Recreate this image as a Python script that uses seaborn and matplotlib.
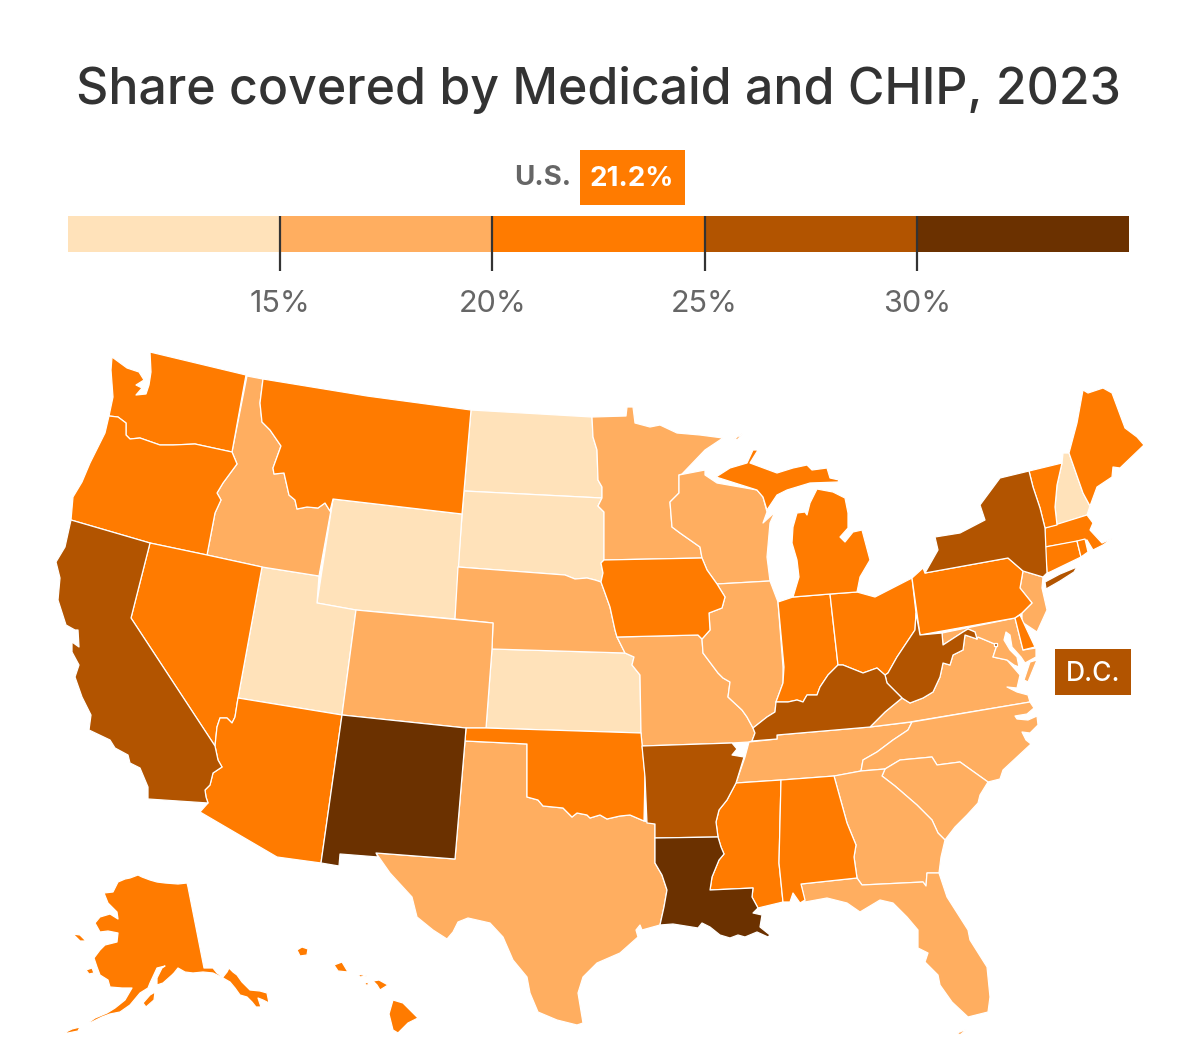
#! /usr/bin/python3
'''
Share of people covered by Medicaid and CHIP in 2023, by state.
'''

import matplotlib
matplotlib.use('Agg')
import numpy as np
import seaborn as sns
import matplotlib.pyplot as plt

# Legend Bands
BAND_EDGES = [10, 15, 20, 25, 30, 35]
BAND_COLORS = ['#FFE2BA', '#FFAE60', '#FF7B00', '#B25400', '#6B3100']
TICK_VALUES = [15, 20, 25, 30]
TICK_LABELS = ['15%', '20%', '25%', '30%']
US_VALUE = '21.2%'

# Which Band Each State Falls Into
BAND_STATES = [
    ['ND', 'SD', 'WY', 'UT', 'KS', 'NH'],
    ['ID', 'MN', 'WI', 'NE', 'CO', 'MO', 'IL', 'TX', 'TN', 'VA', 'VA2', 'NC',
     'SC', 'GA', 'FL', 'FL2', 'NJ', 'MD'],
    ['WA', 'OR', 'MT', 'NV', 'AZ', 'OK', 'IA', 'IN', 'OH', 'MI', 'MI2', 'MI3',
     'MS', 'AL', 'PA', 'MA', 'CT', 'RI', 'VT', 'ME', 'DE', 'AK', 'AK2',
     'AK3', 'AK4', 'AK5', 'HI', 'HI2', 'HI3', 'HI4', 'HI5', 'HI6'],
    ['CA', 'NY', 'NY2', 'WV', 'KY', 'AR', 'DC'],
    ['NM', 'LA'],
]

# Shared Borders in Image Pixels
WA_OR = [(232, 452), (195, 444), (173, 445), (160, 445), (140, 438), (130, 439),
         (126, 435), (126, 423), (118, 417), (109, 416)]
OR_ID = [(207, 555), (215, 513), (221, 500), (217, 493), (223, 483), (237, 464),
         (232, 452)]
ID_MT = [(263, 379), (260, 403), (262, 422), (270, 430), (281, 446), (273, 468),
         (274, 474), (284, 473), (289, 495), (295, 500), (297, 509), (307, 507),
         (318, 508), (325, 503), (330, 511)]
CA_AZ = [(215, 746), (218, 760), (222, 767), (213, 773), (210, 785), (205, 790),
         (206, 797), (208, 803)]
NV_AZ = [(238, 698), (235, 717), (232, 723), (227, 718), (220, 718), (217, 727),
         (215, 746)]
ND_MN = [(592, 417), (593, 437), (597, 450), (598, 480), (602, 487), (602, 498)]
SD_MN = [(602, 498), (598, 506), (604, 512), (604, 560)]
SD_IA = [(604, 560), (601, 563), (603, 573), (601, 582)]
SD_NE = [(601, 582), (595, 580), (587, 578), (575, 579), (565, 575), (458, 567)]
MO_RIVER = [(601, 582), (605, 593), (610, 607), (615, 630), (617, 637)]
NE_MO = [(617, 637), (622, 647), (625, 653)]
KS_MO = [(625, 653), (634, 657), (632, 665), (640, 675), (641, 733)]
RED_RIVER = [(644, 821), (630, 815), (620, 816), (607, 819), (600, 815), (590, 818),
             (587, 815), (577, 813), (572, 817), (563, 808), (543, 806), (538, 800),
             (527, 797)]
MN_WI = [(679, 475), (679, 493), (670, 502), (672, 527), (680, 533), (700, 547),
         (702, 558)]
WI_IA = [(702, 558), (707, 570), (717, 584)]
IA_IL = [(717, 584), (725, 597), (722, 608), (709, 613), (710, 630), (702, 639)]
IL_MO = [(702, 639), (703, 653), (718, 673), (723, 678), (730, 682), (728, 697),
         (742, 710), (747, 717), (753, 728)]
IL_KY = [(776, 702), (775, 712), (767, 717), (753, 728)]
IN_KY = [(776, 702), (788, 702), (797, 700), (803, 702), (807, 695), (817, 695),
         (820, 687), (828, 675), (838, 665)]
OH_KY = [(838, 665), (843, 665), (863, 673), (877, 668), (885, 675)]
OH_WV = [(885, 675), (888, 673), (897, 657), (903, 648), (915, 630), (916, 613)]
WV_VA = [(977, 639), (965, 635), (963, 650), (953, 655), (950, 665), (943, 663),
         (940, 677), (933, 692), (923, 698), (910, 703), (902, 698)]
WV_MD = [(942, 633), (943, 645), (963, 632), (968, 629), (975, 632), (977, 639)]
WV_KY = [(902, 698), (887, 683), (885, 675)]
KY_VA = [(870, 727), (885, 712), (902, 698)]
VA_MD = [(977, 639), (978, 637), (997, 645), (993, 657), (1007, 660)]
TN_NC = [(912, 722), (908, 730), (893, 740), (877, 752), (863, 760), (861, 771)]
AR_MS = [(736, 783), (727, 800), (719, 810), (716, 822), (718, 837)]
LA_MS = [(718, 837), (721, 847), (724, 854), (719, 860), (712, 877), (710, 890),
         (753, 888), (752, 897), (758, 908)]
AL_GA = [(834, 776), (847, 823), (856, 845), (854, 857), (857, 878)]
GA_SC = [(885, 769), (882, 776), (895, 786), (917, 805), (932, 820), (938, 833),
         (945, 840)]
NC_SC = [(885, 769), (900, 760), (932, 757), (937, 765), (960, 762), (988, 782)]
GA_FL = [(857, 878), (862, 885), (923, 882), (926, 886), (927, 873), (939, 873)]
MS_AL = [(781, 780), (779, 863), (783, 902)]
TX_LA = [(655, 838), (655, 863), (662, 875), (667, 890), (664, 907), (660, 925)]
NY_VT = [(1045, 528), (1040, 508), (1033, 487), (1029, 471)]
VT_NH = [(1062, 463), (1057, 485), (1055, 507), (1057, 525)]
NH_ME = [(1069, 453), (1083, 493), (1090, 506)]
PA_NY = [(925, 573), (1008, 558), (1023, 571)]
PA_NJ = [(1023, 571), (1020, 588), (1032, 603), (1022, 613), (1015, 618)]

# State Outlines in Image Pixels
STATE_OUTLINES = {
    'WA': [(112, 357), (127, 368), (139, 372), (144, 380), (136, 385), (142, 388),
           (136, 395), (146, 394), (149, 385), (151, 372), (150, 352), (246, 375)]
          + WA_OR + [(113, 397), (111, 370)],
    'OR': WA_OR + [(105, 433), (90, 463), (82, 482), (73, 497), (71, 520),
                   (150, 543)] + OR_ID[:-1],
    'ID': [(247, 376)] + ID_MT + [(333, 499), (319, 576), (262, 567)] + OR_ID,
    'MT': ID_MT + [(333, 499), (462, 514), (471, 410), (367, 396)],
    'WY': [(333, 499), (462, 514), (455, 619), (356, 610), (317, 603)],
    'ND': [(471, 410)] + ND_MN + [(464, 491)],
    'SD': [(464, 491)] + SD_MN + SD_IA[1:] + SD_NE[1:],
    'NE': [(458, 567)] + SD_NE[::-1][1:] + MO_RIVER[1:] + NE_MO[1:]
          + [(492, 649), (493, 623), (455, 619)],
    'KS': [(492, 649)] + KS_MO + [(486, 728)],
    'CO': [(356, 610), (493, 623), (492, 649), (486, 728), (466, 728), (342, 715)],
    'UT': [(262, 567), (319, 576), (317, 603), (356, 610), (342, 715), (238, 698)],
    'NV': [(150, 543), (207, 555), (262, 567), (238, 698)] + NV_AZ[1:] + [(131, 618)],
    'CA': [(71, 520), (150, 543), (131, 618)] + CA_AZ
          + [(148, 799), (148, 787), (140, 768), (130, 763), (128, 755), (115, 748),
             (110, 740), (89, 730), (91, 715), (82, 697), (75, 677), (79, 665),
             (72, 652), (72, 642), (79, 647), (78, 630), (75, 630), (66, 625),
             (58, 600), (60, 578), (56, 562), (65, 547)],
    'AZ': NV_AZ + CA_AZ[1:] + [(200, 812), (277, 857), (321, 863), (342, 715)],
    'NM': [(342, 715), (466, 728), (465, 741), (455, 859), (376, 853), (378, 857),
           (340, 854), (339, 866), (321, 863)],
    'OK': [(466, 728), (486, 728), (641, 733), (645, 775)] + RED_RIVER
          + [(527, 744), (465, 741)],
    'TX': [(465, 741), (527, 744)] + RED_RIVER[::-1] + [(655, 824)] + TX_LA
          + [(642, 930), (640, 925), (636, 930), (638, 937), (620, 953), (597, 963),
             (583, 977), (578, 993), (583, 1023), (577, 1025), (557, 1020), (538, 1012),
             (530, 993), (527, 977), (513, 960), (503, 937), (490, 923), (468, 918),
             (458, 922), (453, 932), (447, 939), (433, 930), (417, 917), (412, 897),
             (390, 873), (376, 853), (455, 859)],
    'MN': ND_MN + SD_MN[1:] + [(702, 558)] + MN_WI[::-1][1:]
          + [(682, 474), (705, 450), (723, 438), (700, 435), (677, 433), (660, 425),
             (650, 427), (635, 423), (633, 407), (627, 407), (626, 416)],
    'WI': MN_WI + WI_IA[1:]
          + [(770, 581), (767, 557), (770, 523), (775, 512), (763, 523), (767, 512),
             (763, 497), (757, 490), (717, 483), (705, 475), (705, 470)],
    'MI': [(716, 477), (730, 468), (747, 463), (753, 450), (758, 450), (750, 463),
           (777, 473), (793, 468), (807, 465), (812, 470), (827, 468), (830, 478),
           (839, 480), (838, 482), (810, 483), (787, 490), (777, 495), (767, 510),
           (763, 497), (757, 490)],
    'MI2': [(817, 489), (833, 492), (845, 498), (848, 513), (848, 528), (840, 537),
            (845, 542), (853, 532), (862, 530), (870, 560), (860, 577), (857, 592),
            (830, 594), (793, 597), (799, 577), (797, 560), (792, 543), (793, 527),
            (797, 513), (805, 512), (807, 515), (810, 503)],
    'MI3': [(733, 440), (743, 433), (738, 439)],
    'IA': [(604, 560), (702, 558)] + WI_IA[1:] + IA_IL[1:] + [(698, 635), (617, 637)]
          + MO_RIVER[::-1][1:] + SD_IA[::-1][1:-1],
    'MO': [(617, 637), (698, 635)] + IL_MO + [(755, 733), (752, 741), (749, 742),
                                              (732, 743), (642, 746), (641, 733)]
          + KS_MO[::-1][1:] + NE_MO[::-1][1:-1],
    'IL': [(717, 584), (770, 581), (778, 602), (783, 667), (783, 683)] + IL_KY
          + IL_MO[::-1][1:] + IA_IL[::-1][1:-1],
    'IN': [(778, 602), (793, 597), (830, 594), (838, 665)] + IN_KY[::-1][1:]
          + [(783, 683), (784, 667)],
    'OH': [(830, 594), (857, 592), (875, 597), (912, 578), (916, 613)] + OH_WV[::-1][1:]
          + OH_KY[::-1][1:],
    'KY': IN_KY + OH_KY[1:] + WV_KY[::-1][1:] + KY_VA[::-1][1:]
          + [(777, 735), (777, 739), (752, 741), (755, 733), (753, 728)]
          + IL_KY[::-1][1:-1],
    'WV': [(916, 613), (920, 635)] + WV_MD + WV_VA[1:] + WV_KY[1:] + OH_WV[1:-1],
    'VA': [(870, 727), (910, 722), (1030, 702), (1028, 695), (1017, 692), (1007, 687),
           (1017, 688), (1020, 675)] + VA_MD[::-1] + WV_VA[1:] + KY_VA[::-1][1:-1],
    'VA2': [(1030, 662), (1037, 660), (1028, 682), (1024, 680)],
    'MD': [(942, 633), (1015, 618), (1023, 650), (1036, 648), (1036, 657), (1025, 663),
           (1021, 657), (1012, 647), (1010, 635), (1006, 632), (1004, 640), (1010, 650),
           (1017, 657), (1019, 667), (1014, 665)] + VA_MD[::-1] + WV_MD[::-1][1:-1],
    'DC': [(994, 643), (997, 643), (997, 646), (994, 646)],
    'DE': [(1015, 618), (1020, 615), (1027, 630), (1035, 647), (1023, 650)],
    'NJ': [(1023, 571), (1043, 577), (1042, 588), (1047, 610), (1037, 632), (1022, 622),
           (1022, 613), (1032, 603), (1020, 588)],
    'PA': [(912, 578), (923, 568)] + PA_NY + PA_NJ[1:] + [(920, 635)],
    'NY': PA_NY + [(1043, 577), (1047, 573)] + NY_VT
          + [(1000, 478), (980, 505), (985, 520), (960, 533), (935, 537), (938, 550)],
    'NY2': [(1046, 589), (1045, 582), (1060, 574), (1077, 567), (1074, 572), (1060, 581)],
    'VT': NY_VT + VT_NH,
    'NH': [(1063, 453), (1069, 453)] + NH_ME[1:] + [(1087, 515), (1057, 525)]
          + VT_NH[::-1][1:-1] + [(1062, 463)],
    'ME': NH_ME[::-1][:-1] + [(1069, 453), (1077, 423), (1083, 390), (1088, 393),
                              (1103, 388), (1112, 393), (1125, 428), (1137, 437),
                              (1144, 445), (1120, 468), (1113, 467), (1112, 477),
                              (1097, 487)],
    'MA': [(1045, 528), (1087, 515), (1093, 523), (1090, 530), (1102, 543), (1113, 538),
           (1103, 545), (1093, 550), (1087, 540), (1045, 547)],
    'CT': [(1045, 547), (1077, 541), (1081, 557), (1050, 572), (1047, 573)],
    'RI': [(1077, 541), (1085, 539), (1088, 552), (1081, 557)],
    'TN': [(777, 735), (870, 727)] + TN_NC + [(835, 776), (781, 780), (736, 783),
                                              (745, 757), (749, 742), (777, 739)],
    'NC': TN_NC[:1] + [(1030, 702), (1034, 708), (1027, 714), (1015, 716), (1017, 719),
                       (1028, 720), (1037, 716), (1038, 725), (1030, 733), (1022, 732),
                       (1026, 740), (1031, 744), (1017, 757), (1003, 770), (1000, 779)]
          + NC_SC[::-1] + TN_NC[::-1][:-1],
    'SC': NC_SC + [(980, 795), (978, 803), (967, 815), (955, 827)] + GA_SC[::-1][:-1],
    'GA': [(834, 776), (861, 771)] + GA_SC + [(941, 857)] + GA_FL[::-1] + AL_GA[::-1][1:-1],
    'FL': [(801, 884)] + GA_FL
          + [(947, 897), (968, 930), (970, 940), (987, 967), (990, 997), (988, 1012),
             (968, 1017), (952, 1002), (940, 985), (938, 975), (925, 962), (928, 953),
             (918, 948), (918, 930), (907, 917), (893, 903), (880, 900), (860, 912),
             (847, 903), (827, 898), (805, 902)],
    'FL2': [(957, 1033), (967, 1029), (960, 1035)],
    'AR': [(642, 746), (732, 743), (737, 749), (732, 755), (744, 757)] + AR_MS
          + [(655, 838), (655, 824), (647, 823), (645, 777)],
    'LA': [(655, 838)] + LA_MS
          + [(753, 913), (762, 915), (760, 927), (770, 935), (768, 937), (757, 932),
             (745, 937), (738, 935), (730, 938), (720, 935), (710, 927), (702, 923),
             (698, 928), (673, 924), (660, 925)] + TX_LA[::-1][1:-1],
    'MS': AR_MS + LA_MS[1:] + [(783, 902)] + MS_AL[::-1][1:],
    'AL': MS_AL[:-1] + [(783, 902), (790, 902), (793, 893), (800, 903), (805, 900),
                        (801, 884)] + AL_GA[::-1],
    'AK': [(118, 882), (125, 879), (130, 878), (138, 875), (142, 877), (150, 880),
           (157, 882), (165, 883), (178, 884), (187, 883), (188, 887), (204, 968),
           (210, 968), (213, 968), (217, 973), (223, 977), (227, 972), (229, 968),
           (233, 972), (237, 975), (242, 982), (250, 990), (260, 991), (267, 993),
           (269, 1003), (263, 1000), (258, 998), (261, 1007), (256, 1007), (252, 1002),
           (247, 997), (240, 995), (235, 988), (230, 982), (223, 978), (213, 973),
           (203, 972), (193, 973), (185, 972), (178, 968), (174, 973), (172, 975),
           (163, 983), (157, 985), (157, 978), (162, 968), (165, 966), (157, 968),
           (150, 983), (148, 988), (140, 993), (130, 1005), (120, 1012), (110, 1014),
           (102, 1017), (90, 1023), (88, 1023), (95, 1018), (107, 1013), (115, 1008),
           (125, 1000), (132, 988), (122, 988), (110, 987), (108, 980), (100, 975),
           (97, 967), (94, 958), (100, 950), (105, 945), (117, 942), (118, 933),
           (108, 931), (100, 932), (95, 923), (100, 917), (110, 914), (118, 919),
           (117, 912), (108, 903), (104, 893), (113, 892)],
    'AK2': [(73, 934), (80, 935), (86, 941), (80, 941)],
    'AK3': [(86, 970), (92, 968), (94, 973), (89, 974)],
    'AK4': [(143, 1003), (150, 995), (155, 992), (154, 1000), (146, 1007)],
    'AK5': [(64, 1033), (72, 1029), (80, 1027), (78, 1031), (68, 1033)],
    'HI': [(297, 950), (302, 947), (308, 949), (307, 955), (300, 956)],
    'HI2': [(334, 965), (342, 962), (348, 972), (338, 971)],
    'HI3': [(358, 974), (367, 976), (360, 977)],
    'HI4': [(364, 982), (369, 983), (367, 986)],
    'HI5': [(373, 981), (379, 980), (388, 985), (380, 990), (377, 985)],
    'HI6': [(393, 1000), (403, 1003), (418, 1018), (408, 1023), (398, 1033), (393, 1030),
            (389, 1014)],
}


def drawLegend(fig, palette):
    '''
    Draw the Band Strip as a One Row Heatmap with Ticks at the Band Edges.
    '''
    legendAx = fig.add_axes([68 / 1200, 1 - 252 / 1049, 1061 / 1200, 36 / 1049])
    cells = np.arange(len(BAND_COLORS)).reshape(1, -1)
    sns.heatmap(cells, cmap=palette, cbar=False, ax=legendAx, xticklabels=False,
                yticklabels=False)

    # Heatmap cells are one wide, so values map on to band positions
    positions = np.interp(TICK_VALUES, BAND_EDGES, np.arange(len(BAND_EDGES)))
    legendAx.set_xticks(positions)
    legendAx.set_xticklabels(TICK_LABELS, fontsize=22, color='#666666')
    legendAx.tick_params(axis='x', length=13.5, width=1.6, color='#333333', pad=13.5,
                         bottom=True)
    legendAx.vlines(positions, 0, 1, color='#333333', linewidth=1.6)
    sns.despine(ax=legendAx, left=True, bottom=True)


def drawMap(ax, palette):
    '''
    Fill Every State Outline with the Colour of Its Band.
    '''
    for color, states in zip(palette, BAND_STATES):
        for state in states:
            xs, ys = zip(*STATE_OUTLINES[state])
            ax.fill(xs, ys, facecolor=color, edgecolor='white', linewidth=0.9,
                    joinstyle='round')


def main():
    sns.set_theme(style='white')
    plt.rcParams['font.family'] = ['Inter', 'DejaVu Sans']
    palette = sns.color_palette(BAND_COLORS)

    fig = plt.figure(figsize=(12, 10.49), dpi=100)
    ax = fig.add_axes([0, 0, 1, 1])
    ax.set_xlim(0, 1200)
    ax.set_ylim(1049, 0)
    ax.axis('off')

    drawMap(ax, palette)

    ax.text(598, 90, 'Share covered by Medicaid and CHIP, 2023', fontsize=36,
            fontweight='medium', color='#333333', ha='center', va='center')
    ax.text(543, 178, 'U.S.', fontsize=20, fontweight='bold', color='#666666',
            ha='center', va='center')
    ax.fill([580, 685, 685, 580], [150, 150, 205, 205], color=palette[2], linewidth=0)
    ax.text(632, 179, US_VALUE, fontsize=20, fontweight='bold', color='white',
            ha='center', va='center')
    ax.fill([1055, 1131, 1131, 1055], [649, 649, 695, 695], color=palette[3], linewidth=0)
    ax.text(1093, 674, 'D.C.', fontsize=19, fontweight='medium', color='white',
            ha='center', va='center')

    drawLegend(fig, palette)

    fig.savefig('out.png', dpi=100)


if __name__ == '__main__':
    main()
